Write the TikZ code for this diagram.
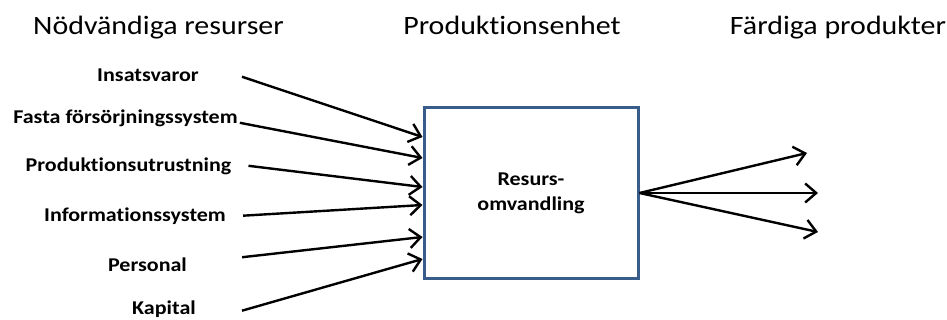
\documentclass[tikz,border=0pt]{standalone}
\usepackage{fontspec}
\setmainfont{Carlito}[FakeStretch=1.13, Ligatures=NoCommon]
\usetikzlibrary{arrows.meta, positioning}
\definecolor{boxblue}{RGB}{56,93,138}
\tikzset{
  rubrik/.style={font=\fontsize{26.5}{30}\selectfont, anchor=base, inner sep=0pt},
  resurs/.style={font=\fontsize{19.5}{25}\selectfont\bfseries, anchor=base, inner sep=0pt},
  pil/.style={line width=2.4pt, -{Straight Barb[length=11pt,width=19pt]}},
}

\begin{document}
\begin{tikzpicture}[x=1pt, y=-1pt]
\useasboundingbox (0,0) rectangle (947,320);
% Rubriker
\node[rubrik] (nr) at (158.5,35) {Nödvändiga resurser};
\node[rubrik] (pe) at (512,35) {Produktionsenhet};
\node[rubrik] (fp) at (838,35) {Färdiga produkter};

% Resurser
\node[resurs] (ins) at (148,82) {Insatsvaror};
\node[resurs] (fas) at (125.5,124) {Fasta försörjningssystem};
\node[resurs] (pro) at (128.5,172) {Produktionsutrustning};
\node[resurs] (inf) at (135,222) {Informationssystem};
\node[resurs] (per) at (147.5,272) {Personal};
\node[resurs] (kap) at (164,314) {Kapital};

% Produktionsenhet
\node[draw=boxblue, line width=3pt, minimum width=214pt, minimum height=170pt,
      font=\fontsize{19.5}{25}\selectfont\bfseries, align=center] (box) at (531,193)
      {Resurs-\\omvandling};

% Pilar in
\draw[pil] ([shift={(43,1)}]ins.east) -- ([yshift=56pt]box.west);
\draw[pil] ([shift={(2,4)}]fas.east) -- ([yshift=35pt]box.west);
\draw[pil] ([shift={(17,-1)}]pro.east) -- ([yshift=6pt]box.west);
\draw[pil] ([shift={(17,-1)}]inf.east) -- ([yshift=-12pt]box.west);
\draw[pil] ([shift={(55,-8)}]per.east) -- ([yshift=-44pt]box.west);
\draw[pil] ([shift={(46,2)}]kap.east) -- ([yshift=-66pt]box.west);

% Pilar ut
\coordinate (o1) at (807,153);
\coordinate (o2) at (818,193);
\coordinate (o3) at (818,232);
\draw[pil] (box.east) -- (o1);
\draw[pil] (box.east) -- (o2);
\draw[pil] (box.east) -- (o3);

\end{tikzpicture}
\end{document}
